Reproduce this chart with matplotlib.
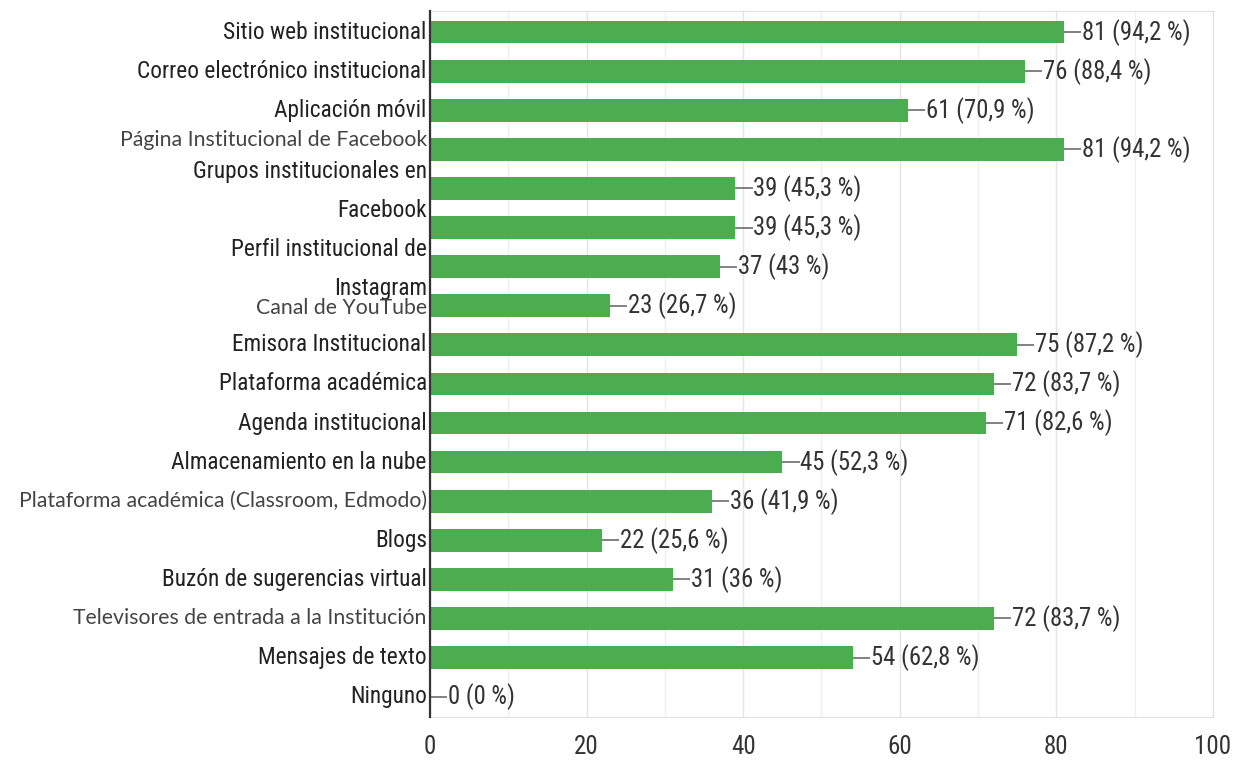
import matplotlib.pyplot as plt
import numpy as np
from matplotlib.ticker import MultipleLocator
import matplotlib.transforms as mtransforms

categorias = ['Sitio web institucional',
              'Correo electrónico institucional',
              'Aplicación móvil',
              'Página Institucional de Facebook',
              'Grupos institucionales en\nFacebook',
              '',
              'Perfil institucional de\nInstagram',
              'Canal de YouTube',
              'Emisora Institucional',
              'Plataforma académica',
              'Agenda institucional',
              'Almacenamiento en la nube',
              'Plataforma académica (Classroom, Edmodo)',
              'Blogs',
              'Buzón de sugerencias virtual',
              'Televisores de entrada a la Institución',
              'Mensajes de texto',
              'Ninguno']
valores = [81, 76, 61, 81, 39, 39, 37, 23, 75, 72, 71, 45, 36, 22, 31, 72, 54, 0]
porcentajes = ['94,2', '88,4', '70,9', '94,2', '45,3', '45,3', '43', '26,7', '87,2',
               '83,7', '82,6', '52,3', '41,9', '25,6', '36', '83,7', '62,8', '0']
xticks = [0, 20, 40, 60, 80, 100]

# labels pasted in another font in the source picture
otra_fuente = {3, 7, 12, 15}
# small vertical shifts of some labels (in bar units)
desplaz = {3: -0.24, 4: 0.07, 6: 0.06, 7: 0.06}

narrow = ['Liberation Sans Narrow', 'Roboto Condensed', 'Roboto', 'DejaVu Sans']
calibri = ['Lato', 'DejaVu Sans']
verde = '#4cac50'

fig = plt.figure(figsize=(12.41, 7.67), dpi=100)
ax = fig.add_axes([0.3465, 0.0652, 0.6309, 0.9205])

y = np.arange(len(valores))
ax.barh(y, valores, height=0.58, color=verde, zorder=3)
ax.set_xlim(0, 100)
ax.set_ylim(len(valores) - 0.48, -0.54)

ax.xaxis.set_major_locator(MultipleLocator(20))
ax.xaxis.set_minor_locator(MultipleLocator(10))
ax.grid(axis='x', which='major', color='#e4e4e4', lw=1, zorder=0)
ax.grid(axis='x', which='minor', color='#efefef', lw=1, zorder=0)
ax.set_yticks([])
ax.set_xticks(xticks)
ax.set_xticklabels([str(t) for t in xticks], family=narrow, fontsize=18, color='#333333')
ax.tick_params(axis='x', length=0, pad=13)
ax.tick_params(axis='x', which='minor', length=0)

for s in ['top', 'right', 'bottom']:
    ax.spines[s].set_color('#e0e0e0')
ax.spines['left'].set_color('#333333')
ax.spines['left'].set_linewidth(1.6)
ax.spines['left'].set_zorder(4)

trans = mtransforms.blended_transform_factory(ax.transAxes, ax.transData)
for i, lab in enumerate(categorias):
    if not lab:
        continue
    if i in otra_fuente:
        ax.text(-0.004, i + desplaz.get(i, 0), lab, transform=trans, ha='right', va='center',
                family=calibri, fontsize=15.3, color='#444444')
    else:
        ax.text(-0.004, i + desplaz.get(i, 0), lab, transform=trans, ha='right', va='center',
                family=narrow, fontsize=16.8, color='#222222', linespacing=1.9)

for i, (v, p) in enumerate(zip(valores, porcentajes)):
    ax.plot([v, v + 2.2], [i, i], color='#777777', lw=1.3, zorder=4, solid_capstyle='butt')
    ax.text(v + 2.3, i, '%d (%s %%)' % (v, p), ha='left', va='center',
            family=narrow, fontsize=17.8, color='#333333')

plt.savefig('out.png', dpi=100)
